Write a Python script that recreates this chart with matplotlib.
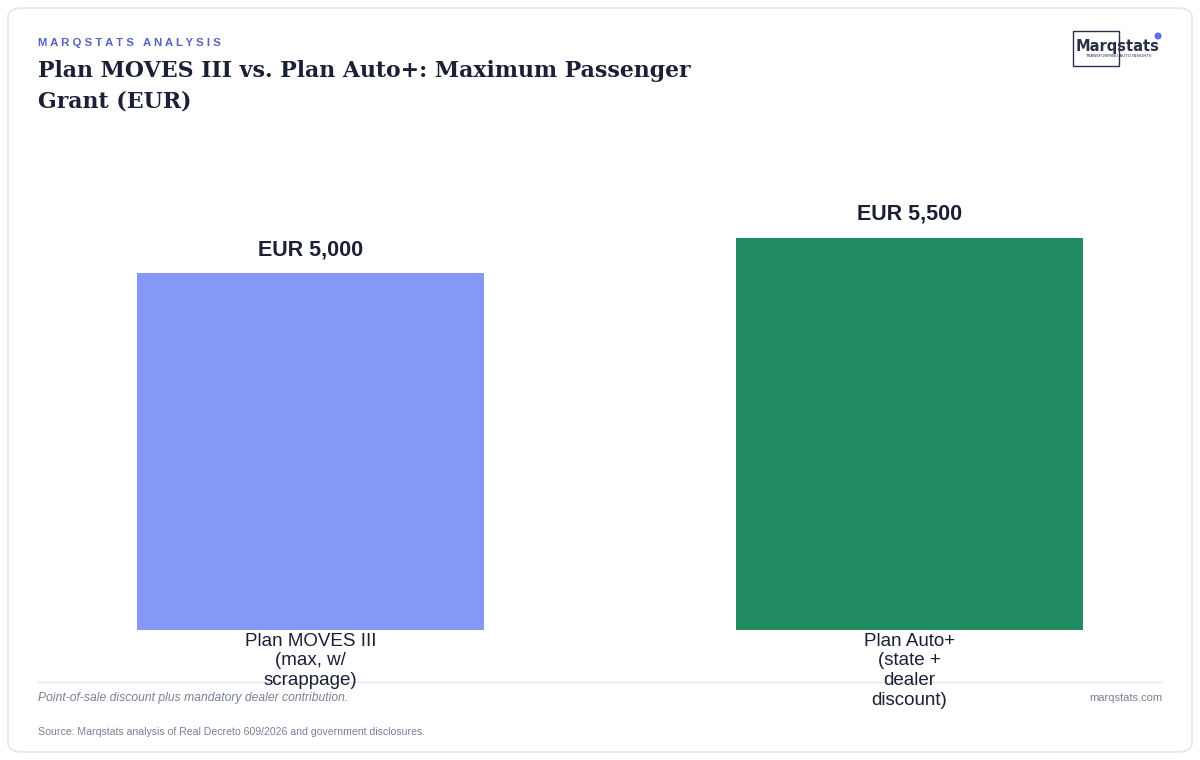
import matplotlib
matplotlib.use("Agg")
import matplotlib.pyplot as plt
from matplotlib.patches import FancyBboxPatch, Rectangle, Ellipse
from matplotlib.lines import Line2D

categories = ["Plan MOVES III\n(max, w/\nscrappage)", "Plan Auto+\n(state +\ndealer\ndiscount)"]
values = [5000, 5500]
value_labels = ["EUR 5,000", "EUR 5,500"]
colors = ["#8499F5", "#218B62"]

W, H = 1200, 760
fig = plt.figure(figsize=(12, 7.6), dpi=100)
fig.patch.set_facecolor("white")

def fx(px):
    return px / W

def fy(py):
    return 1 - py / H

# card border
card = FancyBboxPatch((fx(8), fy(752)), fx(1184), (752 - 8) / H,
                      boxstyle="round,pad=0,rounding_size=0.012",
                      transform=fig.transFigure, facecolor="none",
                      edgecolor="#E3E5EA", linewidth=1.2, zorder=-10)
fig.patches.append(card)

# axes
ax = fig.add_axes([fx(38), fy(630), fx(1162) - fx(38), (630 - 179) / H])
ax.set_zorder(2)
x = list(range(len(categories)))
ax.bar(x, values, width=0.58, color=colors, zorder=2)
for xi, v, lab in zip(x, values, value_labels):
    ax.annotate(lab, (xi, v), xytext=(0, 9.5), textcoords="offset points",
                ha="center", va="bottom", fontsize=15.5, fontweight="bold",
                color="#1A2035", family="Liberation Sans")
ax.set_xlim(-0.455, 1.4215)
ax.set_ylim(0, 6325)
ax.set_xticks(x)
ax.set_xticklabels(categories, fontsize=13.5, color="#1A2035",
                   family="Liberation Sans", linespacing=1.2)
ax.tick_params(axis="x", length=0, pad=2)
ax.set_yticks([])
for s in ax.spines.values():
    s.set_visible(False)
ax.set_facecolor("none")

# header
fig.text(fx(38), fy(43), "M A R Q S T A T S   A N A L Y S I S", fontsize=8.2,
         fontweight="bold", color="#5563C1", family="Liberation Sans",
         va="center", ha="left")
fig.text(fx(38), fy(86), "Plan MOVES III vs. Plan Auto+: Maximum Passenger\nGrant (EUR)",
         fontsize=15.8, fontweight="bold", color="#1A2035", family="DejaVu Serif",
         va="center", ha="left", linespacing=1.5)

# logo
fig.patches.append(Rectangle((fx(1073), fy(66)), fx(46), (66 - 31) / H,
                             transform=fig.transFigure, facecolor="none",
                             edgecolor="#2A3048", linewidth=1.0))
fig.text(fx(1118), fy(46), "Marqstats", fontsize=10.5, fontweight="bold",
         color="#2A3048", family="DejaVu Sans", ha="center", va="center")
fig.text(fx(1118), fy(56), "TRANSFORMING AUTO INSIGHTS", fontsize=3,
         color="#2A3048", family="DejaVu Sans", ha="center", va="center")
fig.patches.append(Ellipse((fx(1158), fy(36)), 7 / W, 7 / H, transform=fig.transFigure,
                           facecolor="#5A6CF0", edgecolor="none"))

# footer
fig.add_artist(Line2D([fx(38), fx(1162)], [fy(682), fy(682)],
                      transform=fig.transFigure, color="#E5E7EB", linewidth=1))
fig.text(fx(38), fy(698), "Point-of-sale discount plus mandatory dealer contribution.",
         fontsize=8.7, style="italic", color="#7A8095", family="Liberation Sans",
         ha="left", va="center")
fig.text(fx(1162), fy(698), "marqstats.com", fontsize=8.0, color="#7A8095",
         family="Liberation Sans", ha="right", va="center")
fig.text(fx(38), fy(732), "Source: Marqstats analysis of Real Decreto 609/2026 and government disclosures.",
         fontsize=7.6, color="#7A8095", family="Liberation Sans", ha="left", va="center")

fig.savefig("out.png", dpi=100, facecolor="white")
